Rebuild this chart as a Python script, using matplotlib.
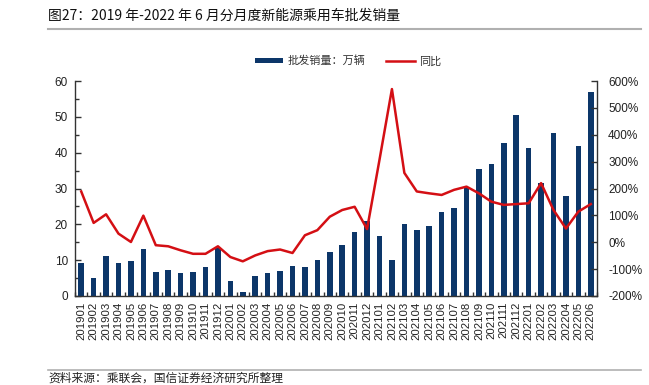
import matplotlib
matplotlib.use("Agg")
import matplotlib.pyplot as plt
from matplotlib.ticker import MultipleLocator, FuncFormatter, FixedLocator
import numpy as np

plt.rcParams['font.family'] = ['Liberation Sans', 'Noto Sans CJK SC', 'DejaVu Sans']

months = ["201901", "201902", "201903", "201904", "201905", "201906",
          "201907", "201908", "201909", "201910", "201911", "201912",
          "202001", "202002", "202003", "202004", "202005", "202006",
          "202007", "202008", "202009", "202010", "202011", "202012",
          "202101", "202102", "202103", "202104", "202105", "202106",
          "202107", "202108", "202109", "202110", "202111", "202112",
          "202201", "202202", "202203", "202204", "202205", "202206"]

# 批发销量 (万辆)
sales = [9.3, 5.0, 11.1, 9.3, 9.8, 13.2,
         6.6, 7.2, 6.3, 6.6, 8.0, 13.3,
         4.3, 1.2, 5.6, 6.4, 7.0, 8.5,
         8.2, 10.0, 12.4, 14.3, 17.9, 20.8,
         16.7, 10.0, 20.1, 18.5, 19.6, 23.5,
         24.6, 30.5, 35.4, 36.7, 42.8, 50.5,
         41.2, 31.6, 45.4, 28.0, 41.9, 57.0]

# 同比 (%)
yoy = [189, 72, 104, 32, 1, 99,
       -11, -15, -30, -43, -43, -15,
       -55, -71, -49, -33, -27, -40,
       26, 45, 95, 120, 132, 49,
       307, 570, 258, 189, 182, 176,
       195, 207, 182, 151, 139, 142,
       145, 220, 120, 51, 114, 142]

BAR_COLOR = "#0c3669"
LINE_COLOR = "#d40f14"
CJK = ['Noto Sans CJK SC', 'DejaVu Sans']

fig = plt.figure(figsize=(6.49, 3.85), dpi=100)
ax = fig.add_axes([75 / 649, 1 - 296 / 385, (597 - 75) / 649, (296 - 81) / 385])
ax2 = ax.twinx()

x = np.arange(len(months))
bars = ax.bar(x, sales, width=0.45, color=BAR_COLOR, zorder=2)
line, = ax2.plot(x, yoy, color=LINE_COLOR, linewidth=1.8, zorder=3)

ax.set_xlim(-0.5, len(months) - 0.5)
ax.set_ylim(0, 60)
ax2.set_ylim(-200, 600)

ax.yaxis.set_major_locator(MultipleLocator(10))
ax.yaxis.set_minor_locator(MultipleLocator(5))
ax2.yaxis.set_major_locator(MultipleLocator(100))
ax2.yaxis.set_major_formatter(FuncFormatter(lambda v, p: "%d%%" % v))

ax.set_xticks(x)
ax.set_xticklabels(months, rotation=90)
ax.xaxis.set_minor_locator(FixedLocator(np.arange(-0.5, len(months), 1)))

for a in (ax, ax2):
    a.spines['top'].set_visible(False)
    for s in a.spines.values():
        s.set_color("#333333")
        s.set_linewidth(1.0)
ax.spines['right'].set_visible(False)
ax2.spines['left'].set_visible(False)
ax2.spines['bottom'].set_visible(False)

ax.tick_params(axis='y', which='major', direction='in', length=4, width=1,
               color="#333333", labelsize=8.5, pad=5, labelcolor="#222222")
ax.tick_params(axis='y', which='minor', direction='in', length=3, width=1, color="#333333")
ax.tick_params(axis='x', which='major', length=0, labelsize=8.2, pad=4, labelcolor="#222222")
ax.tick_params(axis='x', which='minor', direction='in', length=3, width=1, color="#333333")
ax2.tick_params(axis='y', which='major', direction='in', length=4, width=1,
                color="#333333", labelsize=8.5, pad=8, labelcolor="#222222")

leg = fig.legend([bars, line], ["批发销量：万辆", "同比"],
                 loc='center', bbox_to_anchor=(348 / 649, 1 - 61 / 385),
                 ncol=2, frameon=False, handlelength=2.6, handleheight=0.35,
                 columnspacing=1.8, handletextpad=0.4,
                 prop={'family': CJK, 'size': 8})
for t in leg.get_texts():
    t.set_color("#333333")

fig.text(48 / 649, 1 - 16 / 385, "图27：2019 年-2022 年 6 月分月度新能源乘用车批发销量",
         family=CJK, fontsize=10, va='center', ha='left', color="#111111")
fig.add_artist(plt.Line2D([48 / 649, 641 / 649], [1 - 28.5 / 385, 1 - 28.5 / 385],
                          color="#b0b0b0", linewidth=1.5))
fig.add_artist(plt.Line2D([48 / 649, 641 / 649], [1 - 370 / 385, 1 - 370 / 385],
                          color="#b0b0b0", linewidth=1.2))
fig.text(48 / 649, 1 - 378 / 385, "资料来源：乘联会，国信证券经济研究所整理",
         family=CJK, fontsize=8.5, va='center', ha='left', color="#222222")

fig.savefig("out.png", dpi=100)
